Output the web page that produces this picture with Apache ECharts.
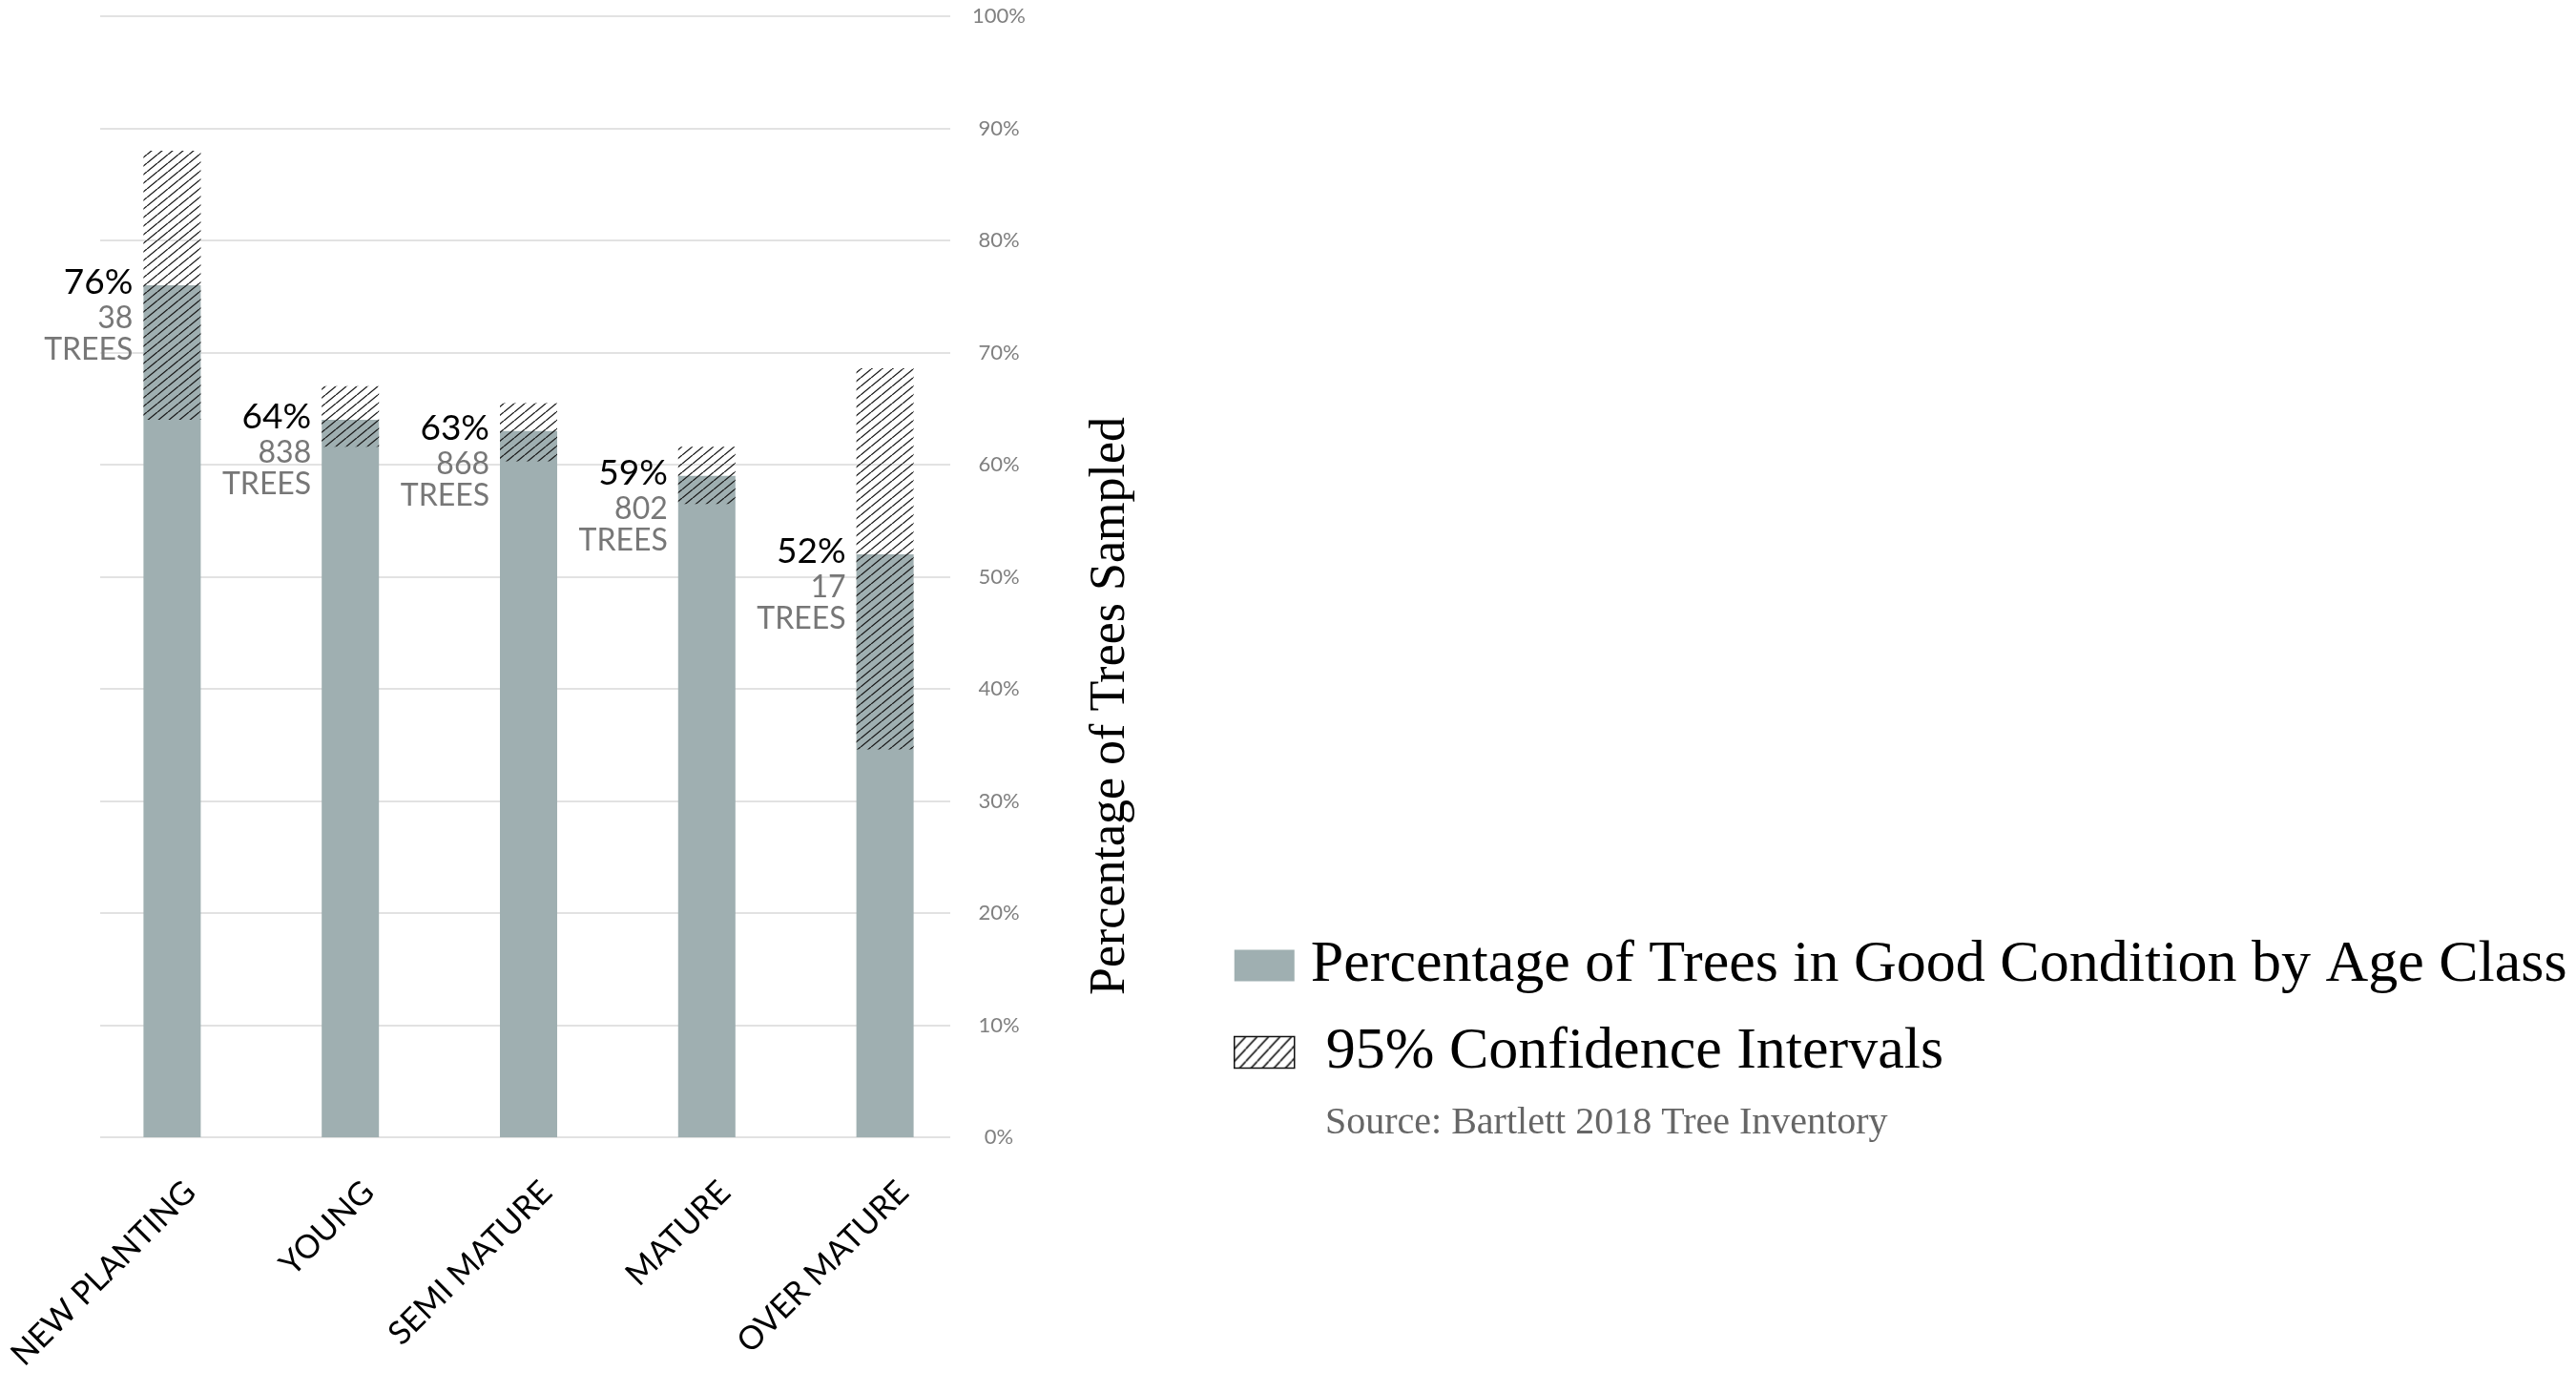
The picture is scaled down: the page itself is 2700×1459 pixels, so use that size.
<!DOCTYPE html>
<html>
<head>
<meta charset="utf-8">
<script src="https://cdn.jsdelivr.net/npm/echarts@6/dist/echarts.min.js"></script>
<style>
  html, body { margin: 0; padding: 0; background: #fff; }
  #chart { width: 2700px; height: 1459px; }
</style>
</head>
<body>
<div id="chart"></div>
<script>
// Age classes and survey results
const categories = ['NEW PLANTING', 'YOUNG', 'SEMI MATURE', 'MATURE', 'OVER MATURE'];
const goodPct    = [76, 64, 63, 59, 52];          // % of trees in good condition
const treeCounts = [38, 838, 868, 802, 17];       // trees sampled per class
const ciLow      = [64, 61.6, 60.3, 56.5, 34.6];  // 95% CI lower bound
const ciHigh     = [88, 67, 65.5, 61.6, 68.6];    // 95% CI upper bound

// Value axis ticks: 0% .. 100% every 10%
const yMin = 0, yMax = 100, yStep = 10;

const goodName = 'Percentage of Trees in Good Condition by Age Class';
const ciName = '95% Confidence Intervals';
const sourceText = 'Source: Bartlett 2018 Tree Inventory';
const axisTitle = 'Percentage of Trees Sampled';

// Diagonal hatch tile: one "/" line per tile, wrapped at the corners
function hatchTile(w, h, lineWidth, color) {
  const c = document.createElement('canvas');
  c.width = w; c.height = h;
  const g = c.getContext('2d');
  g.strokeStyle = color;
  g.lineWidth = lineWidth;
  g.beginPath();
  for (const dx of [-w, 0, w]) {
    g.moveTo(dx, h);
    g.lineTo(dx + w, 0);
  }
  g.stroke();
  return c;
}
const barHatch = { image: hatchTile(11, 9, 1.3, '#1a1a1a'), repeat: 'repeat' };
const legendHatch = { image: hatchTile(12, 13, 1.6, '#111'), repeat: 'repeat' };

const ciBase = ciLow.slice();
const ciSpan = ciHigh.map((h, i) => +(h - ciLow[i]).toFixed(2));

const GRAY = '#9fafb1';
const PLOT_TOP = 17, PLOT_H = 1175;

const chart = echarts.init(document.getElementById('chart'), null, { renderer: 'canvas' });

const hiddenValueAxis = (gridIndex) => ({
  type: 'value', gridIndex, min: yMin, max: yMax, interval: yStep,
  show: false, splitLine: { show: false }
});

chart.setOption({
  animation: false,
  backgroundColor: '#fff',
  grid: [
    // reference lines and percentage ticks
    { left: 105, top: PLOT_TOP, width: 891, height: PLOT_H, outerBoundsMode: 'none' },
    // bars
    { left: 87, top: PLOT_TOP, width: 934, height: PLOT_H, outerBoundsMode: 'none' },
    // category labels
    { left: 106, top: PLOT_TOP, width: 934, height: PLOT_H, outerBoundsMode: 'none' }
  ],
  xAxis: [
    { type: 'category', gridIndex: 0, data: categories, show: false },
    { type: 'category', gridIndex: 1, data: categories,
      axisLine: { show: false }, axisTick: { show: false }, axisLabel: { show: false } },
    { type: 'category', gridIndex: 2, data: categories,
      axisLine: { show: false }, axisTick: { show: false },
      axisLabel: {
        interval: 0, rotate: 45, margin: 52,
        fontFamily: 'Lato', fontSize: 34, color: '#000'
      } }
  ],
  yAxis: [
    {
      type: 'value', gridIndex: 0, position: 'right',
      min: yMin, max: yMax, interval: yStep,
      axisLine: { show: false }, axisTick: { show: false },
      splitLine: { show: true, lineStyle: { color: '#d9d9d9', width: 1.5 } },
      axisLabel: {
        formatter: '{value}%', align: 'center', margin: 51,
        fontFamily: 'Lato', fontSize: 22, color: '#808080'
      }
    },
    hiddenValueAxis(1),
    hiddenValueAxis(2)
  ],
  legend: {
    orient: 'vertical', left: 1293, top: 980, padding: 0,
    itemWidth: 63, itemHeight: 33, itemGap: 27,
    selectedMode: false,
    textStyle: { fontFamily: 'Liberation Serif', fontSize: 62, color: '#000', lineHeight: 64 },
    data: [
      { name: goodName, icon: 'rect', textStyle: { padding: [0, 0, 0, 12] } },
      { name: ciName, icon: 'rect',
        itemStyle: { color: legendHatch, borderColor: '#111', borderWidth: 1.5 },
        textStyle: { padding: [0, 0, 0, 28] } }
    ]
  },
  graphic: [
    {
      type: 'text', x: 1164, y: 740, rotation: Math.PI / 2,
      style: { text: axisTitle, x: 0, y: 0, align: 'center', verticalAlign: 'middle',
               font: '52px "Liberation Serif"', fill: '#000' }
    },
    {
      type: 'text', x: 1389, y: 1177,
      style: { text: sourceText, x: 0, y: 0, align: 'left', verticalAlign: 'middle',
               font: '40px "Liberation Serif"', fill: '#666' }
    }
  ],
  series: [
    {
      name: goodName, type: 'bar', xAxisIndex: 1, yAxisIndex: 1,
      data: goodPct, barWidth: 60, barGap: '-100%',
      itemStyle: { color: GRAY },
      label: {
        show: true,
        position: [-11, -24],
        align: 'right', verticalAlign: 'top',
        formatter: (p) => `{pct|${p.value}%}\n{n|${treeCounts[p.dataIndex]}}\n{n|TREES}`,
        rich: {
          pct: { fontFamily: 'Lato', fontSize: 37, color: '#000', lineHeight: 42, align: 'right' },
          n: { fontFamily: 'Lato', fontSize: 32, color: '#777', lineHeight: 33, align: 'right' }
        }
      }
    },
    {
      name: 'ciBase', type: 'bar', xAxisIndex: 1, yAxisIndex: 1, stack: 'ci',
      data: ciBase, barWidth: 60, barGap: '-100%',
      itemStyle: { color: 'rgba(0,0,0,0)' }, silent: true
    },
    {
      name: ciName, type: 'bar', xAxisIndex: 1, yAxisIndex: 1, stack: 'ci',
      data: ciSpan, barWidth: 60, barGap: '-100%',
      itemStyle: { color: barHatch }
    }
  ]
});
</script>
</body>
</html>
